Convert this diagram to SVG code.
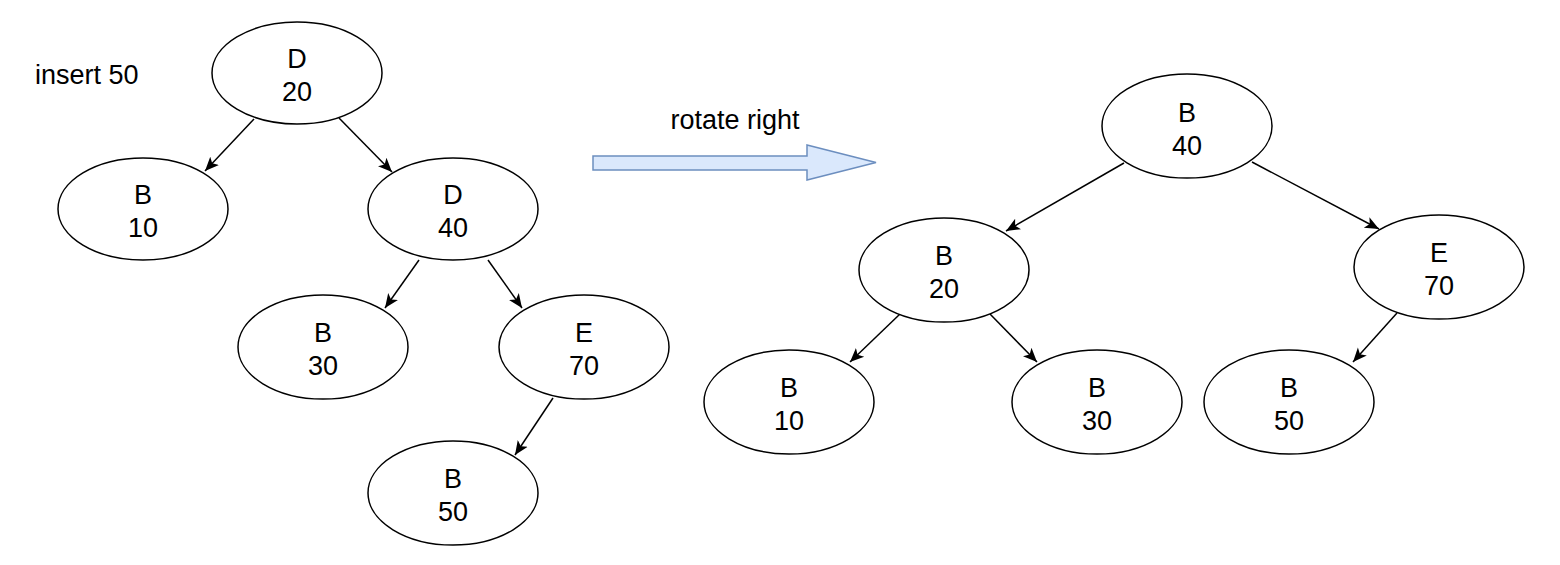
<svg xmlns="http://www.w3.org/2000/svg" width="1560" height="565" viewBox="0 0 1560 565">
<style>
.n{fill:#fff;stroke:#000;stroke-width:1.5}
.t{font-family:"Liberation Sans",Arial,sans-serif;font-size:27px;fill:#000;text-anchor:middle}
.lbl{font-family:"Liberation Sans",Arial,sans-serif;font-size:27px;fill:#000}
.e{stroke:#000;stroke-width:1.5;fill:none;marker-end:url(#ah)}
</style>
<defs>
<marker id="ah" markerWidth="16" markerHeight="14" refX="14" refY="6" orient="auto" markerUnits="userSpaceOnUse" viewBox="0 0 16 12">
<path d="M0,0 L14,6 L0,12 L3.5,6 Z" fill="#000"/>
</marker>
</defs>
<rect width="1560" height="565" fill="#fff"/>
<text class="lbl" x="35" y="84">insert 50</text>
<text class="lbl" x="735" y="129" text-anchor="middle">rotate right</text>
<g id="block-arrow">
<path d="M593,156 L807,156 L807,145 L876,162.5 L807,180 L807,170 L593,170 Z" fill="#dae8fc" stroke="#6c8ebf" stroke-width="1.5"/>
</g>
<g id="connectors">
<line class="e" x1="254" y1="119" x2="205" y2="171"/>
<line class="e" x1="339" y1="118" x2="392" y2="172"/>
<line class="e" x1="419" y1="260" x2="385" y2="308"/>
<line class="e" x1="488" y1="260" x2="522" y2="308"/>
<line class="e" x1="553" y1="398" x2="515" y2="455"/>
<line class="e" x1="1124" y1="163" x2="1006" y2="231"/>
<line class="e" x1="1252" y1="162" x2="1379" y2="229"/>
<line class="e" x1="900" y1="314" x2="850" y2="362"/>
<line class="e" x1="990" y1="314" x2="1037" y2="362"/>
<line class="e" x1="1397" y1="313" x2="1353" y2="362"/>
</g>
<g id="L-D20"><ellipse class="n" cx="297" cy="73" rx="85" ry="51"/><text class="t" x="297" y="68">D</text><text class="t" x="297" y="101">20</text></g>
<g id="L-B10"><ellipse class="n" cx="143" cy="209" rx="85" ry="51"/><text class="t" x="143" y="204">B</text><text class="t" x="143" y="237">10</text></g>
<g id="L-D40"><ellipse class="n" cx="453" cy="209" rx="85" ry="51"/><text class="t" x="453" y="204">D</text><text class="t" x="453" y="237">40</text></g>
<g id="L-B30"><ellipse class="n" cx="323" cy="347" rx="85" ry="52"/><text class="t" x="323" y="342">B</text><text class="t" x="323" y="375">30</text></g>
<g id="L-E70"><ellipse class="n" cx="584" cy="347" rx="85" ry="52"/><text class="t" x="584" y="342">E</text><text class="t" x="584" y="375">70</text></g>
<g id="L-B50"><ellipse class="n" cx="453" cy="493" rx="85" ry="52"/><text class="t" x="453" y="488">B</text><text class="t" x="453" y="521">50</text></g>
<g id="R-B40"><ellipse class="n" cx="1187" cy="126" rx="85" ry="52"/><text class="t" x="1187" y="122">B</text><text class="t" x="1187" y="155">40</text></g>
<g id="R-B20"><ellipse class="n" cx="944" cy="270" rx="85" ry="52"/><text class="t" x="944" y="265">B</text><text class="t" x="944" y="298">20</text></g>
<g id="R-E70"><ellipse class="n" cx="1439" cy="267" rx="85" ry="52"/><text class="t" x="1439" y="262">E</text><text class="t" x="1439" y="295">70</text></g>
<g id="R-B10"><ellipse class="n" cx="789" cy="402" rx="85" ry="52"/><text class="t" x="789" y="397">B</text><text class="t" x="789" y="430">10</text></g>
<g id="R-B30"><ellipse class="n" cx="1097" cy="402" rx="85" ry="52"/><text class="t" x="1097" y="397">B</text><text class="t" x="1097" y="430">30</text></g>
<g id="R-B50"><ellipse class="n" cx="1289" cy="402" rx="85" ry="52"/><text class="t" x="1289" y="397">B</text><text class="t" x="1289" y="430">50</text></g>
</svg>
